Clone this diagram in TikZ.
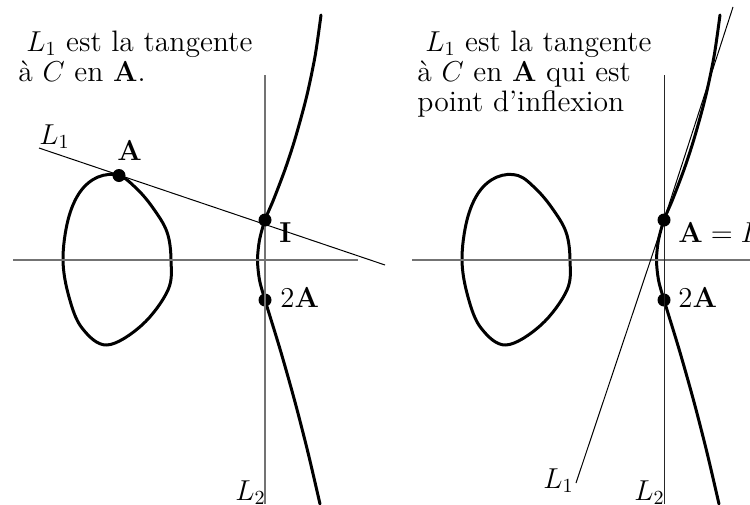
\documentclass[tikz,border=0pt]{standalone}
\begin{document}
\begin{tikzpicture}[x=0.5pt,y=-0.5pt,
  curve/.style={line width=1.5pt,line join=round,line cap=round},
  axisline/.style={line width=0.65pt,black!55},
  vline/.style={line width=0.5pt,black!85},
  tline/.style={line width=0.5pt},
  dot/.style={circle,fill,inner sep=0pt,minimum size=6.5pt},
  lab/.style={font=\fontsize{14.8}{16}\selectfont,inner sep=0pt,anchor=base west}]
\useasboundingbox (0,0) rectangle (750,504);
\clip (0,0) rectangle (750,504);
% shared parts of both panels
\foreach \s/\p in {0/l,399/r}{
  \begin{scope}[shift={(\s,0)}]
    \draw[curve] plot[smooth cycle,tension=0.6] coordinates {
      (119,175.5) (137,189) (153,208) (167,232) (171,260) (168,290)
      (142,325) (107,345) (82,328) (69,297) (63,260) (68,220) (80,192) (98,177)};
    \draw[curve] plot[smooth,tension=0.5] coordinates {
      (321,15) (315.1,56) (306.5,97) (295.3,138) (285.2,169) (273.6,199.5) (265,220)
      (259.5,240) (257.5,260) (259.5,280) (265,300) (280.6,351) (295,402) (308.1,453) (320,504)};
    \node[dot] (\p2A) at (265,300) {};
  \end{scope}
}
% left panel
\draw[axisline] (13,260) -- (358,260);
\coordinate (lL2top) at (265,75);
\coordinate (lL2bot) at (265,504);
\draw[axisline] (lL2top) -- (lL2bot);
\coordinate (lL1s) at (39,148);
\coordinate (lL1e) at (385,265);
\draw[tline] (lL1s) -- (lL1e);
\node[dot] (lA) at (119,175.5) {};
\node[dot] (lI) at (265,220) {};
\node[lab] (lt1) at (26,51) {$L_1$ est la tangente};
\node[lab] (lt2) at (18,81) {à $C$ en $\mathbf{A}$.};
\node[lab] (lL1lab) at (39,144) {$L_1$};
\node[lab] (lAlab) at (117,160) {$\mathbf{A}$};
\node[lab] (lIlab) at (279,242) {$\mathbf{I}$};
\node[lab] (l2Alab) at (280,307) {$2\mathbf{A}$};
\node[lab] (lL2lab) at (235,500) {$L_2$};
% right panel
\draw[axisline] (412,260) -- (750,260);
\coordinate (rL2top) at (664,75);
\coordinate (rL2bot) at (664,504);
\draw[vline] (rL2top) -- (rL2bot);
\node[dot] (rA) at (664,220) {};
\coordinate (rL1s) at (576,483);
\coordinate (rL1e) at (733,7);
\draw[tline] (rL1s) -- (rA) -- (rL1e);
\node[lab] (rt1) at (425,51) {$L_1$ est la tangente};
\node[lab] (rt2) at (417,81) {à $C$ en $\mathbf{A}$ qui est};
\node[lab] (rt3) at (417,111) {point d'inflexion};
\node[lab] (rAIlab) at (678,242) {$\mathbf{A}=I$};
\node[lab] (r2Alab) at (678,307) {$2\mathbf{A}$};
\node[lab] (rL1lab) at (543,488) {$L_1$};
\node[lab] (rL2lab) at (634,500) {$L_2$};
\end{tikzpicture}
\end{document}
